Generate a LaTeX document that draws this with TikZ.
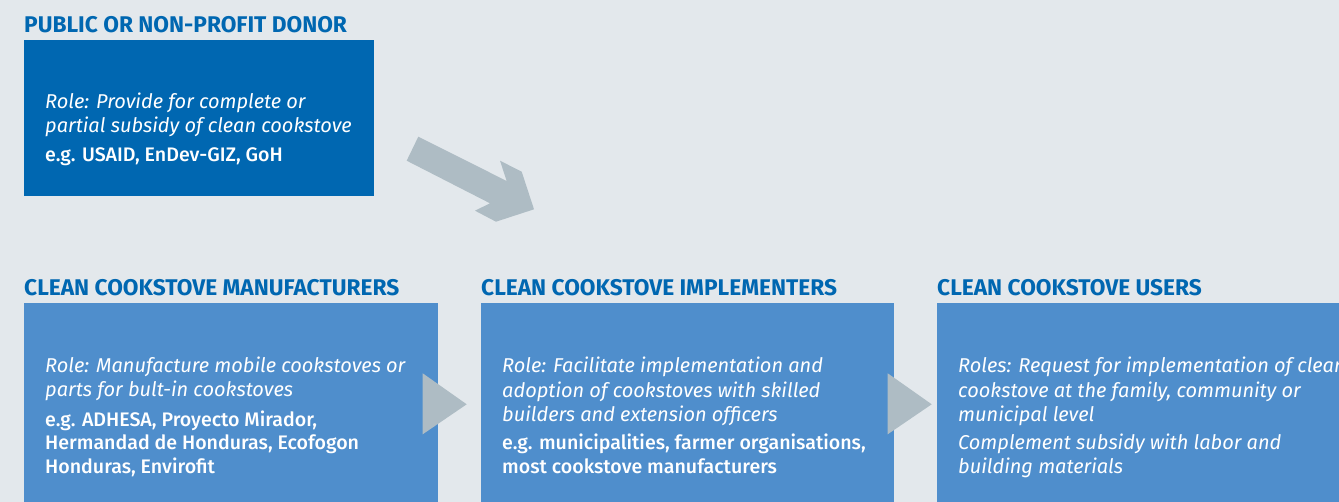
\documentclass[tikz,border=0pt]{standalone}
\usepackage{fontspec}
\setmainfont{Fira Sans}
\newfontfamily\mediumfont{Fira Sans Medium}
\definecolor{bgcol}{HTML}{E3E8EC}
\definecolor{donorcol}{HTML}{0067B1}
\definecolor{actorcol}{HTML}{4F8ECC}
\definecolor{arrcol}{HTML}{AEBCC4}
\definecolor{titlecol}{HTML}{0067B1}
\tikzset{
  titletext/.style={anchor=base west, inner sep=0pt, text=titlecol, font=\bfseries\fontsize{22.7}{26}\selectfont},
  roletext/.style={anchor=base west, inner sep=0pt, text=white, align=left, font=\itshape\fontsize{20}{24}\selectfont},
  exampletext/.style={anchor=base west, inner sep=0pt, text=white, align=left, font=\mediumfont\fontsize{19.6}{23.5}\selectfont},
  actorbox/.style={anchor=north west, inner sep=0pt, draw=none, fill=actorcol, minimum height=199pt},
  arrowshape/.style={fill=arrcol, draw=none}
}
\begin{document}
\begin{tikzpicture}[x=1pt, y=-1pt]
\useasboundingbox (0,0) rectangle (1339,502);
\clip (0,0) rectangle (1339,502);
\fill[bgcol] (0,0) rectangle (1339,502);
% donor
\node[anchor=north west, inner sep=0pt, fill=donorcol, minimum width=350pt, minimum height=156pt] (donor) at (24,40) {};
\node[titletext] (donortitle) at (24,33) {PUBLIC OR NON-PROFIT DONOR};
\node[roletext] (donorrole) at (45,133) {Role: Provide for complete or\\partial subsidy of clean cookstove};
\node[exampletext] (donorex) at (45,162) {e.g. USAID, EnDev-GIZ, GoH};
% boxes
\node[actorbox, minimum width=414pt] (manu) at (24,303) {};
\node[actorbox, minimum width=413pt] (impl) at (481,303) {};
\node[actorbox, minimum width=420pt] (users) at (937,303) {};
\node[titletext] (manutitle) at (24,296) {CLEAN COOKSTOVE MANUFACTURERS};
\node[titletext] (impltitle) at (481,296) {CLEAN COOKSTOVE IMPLEMENTERS};
\node[titletext] (userstitle) at (937,296) {CLEAN COOKSTOVE USERS};
\node[roletext] (manurole) at (45,397) {Role: Manufacture mobile cookstoves or\\parts for bult-in cookstoves};
\node[exampletext] (manuex) at (45,473) {e.g. ADHESA, Proyecto Mirador,\\Hermandad de Honduras, Ecofogon\\Honduras, Envirofit};
\node[roletext] (implrole) at (502,421) {Role: Facilitate implementation and\\adoption of cookstoves with skilled\\builders and extension officers};
\node[exampletext] (implex) at (502,473) {e.g. municipalities, farmer organisations,\\most cookstove manufacturers};
\node[roletext] (usersrole) at (958,421) {Roles: Request for implementation of clean\\cookstove at the family, community or\\municipal level};
\node[roletext] (usersex) at (958,473) {Complement subsidy with labor and\\building materials};
% arrows
\fill[arrowshape] (418.3,136.7) -- (506.7,181) -- (500,160.7) -- (521.7,171.7) -- (534,209.3) -- (496,221.7) -- (475,210.7) -- (490,203.3) -- (406.7,160.7) -- cycle;
\fill[arrowshape] (422.7,373.3) -- (466.7,404.3) -- (422.7,434.3) -- cycle;
\fill[arrowshape] (887.7,373.3) -- (931.7,404.3) -- (887.7,434.3) -- cycle;
\end{tikzpicture}
\end{document}
